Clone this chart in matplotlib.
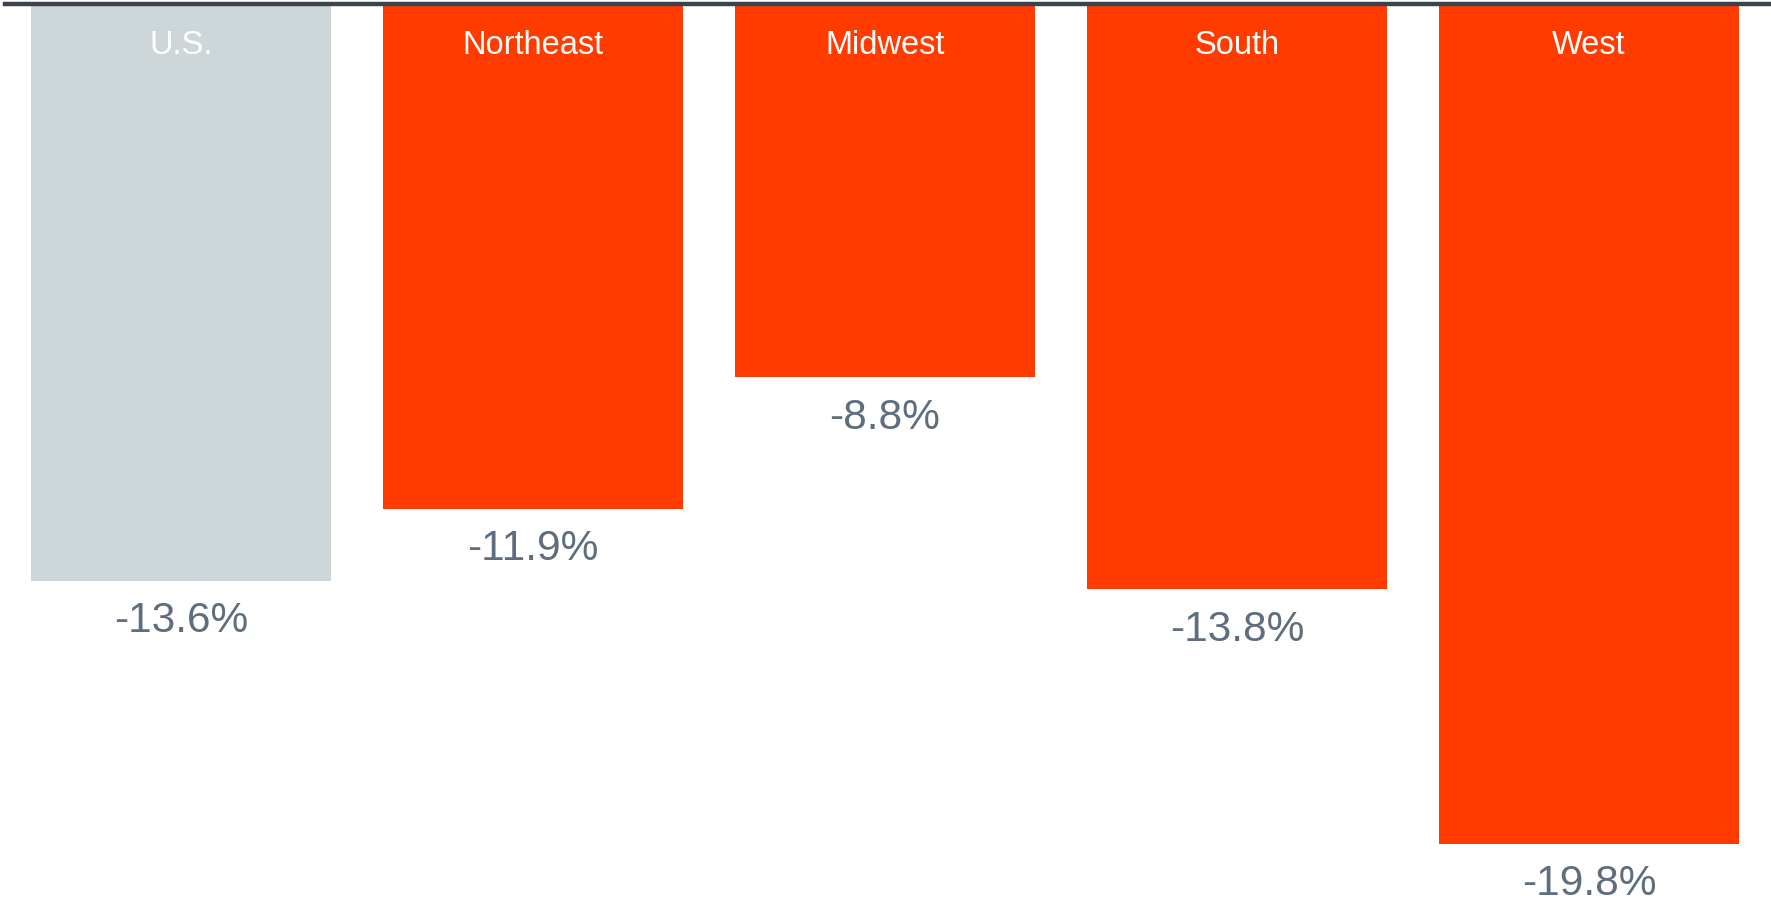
import matplotlib
matplotlib.use('Agg')
import matplotlib.pyplot as plt

regions = ['U.S.', 'Northeast', 'Midwest', 'South', 'West']
changes = [-13.6, -11.9, -8.8, -13.8, -19.8]
colors = ['#CDD6D9', '#FF3B00', '#FF3B00', '#FF3B00', '#FF3B00']

plt.rcParams['font.family'] = ['Liberation Sans', 'DejaVu Sans']

fig = plt.figure(figsize=(17.71, 9.01), dpi=100)
ax = fig.add_axes([5 / 1771, 0, 1 - 5 / 1771, 897 / 901])

x = range(len(regions))
ax.bar(x, changes, width=0.85, color=colors, zorder=2)
ax.axhline(0, color='#3D434A', linewidth=3.2, zorder=3, clip_on=False)

for i, (name, val) in enumerate(zip(regions, changes)):
    ax.text(i, -0.98, name, ha='center', va='center', color='white', fontsize=23.5)
    ax.text(i, val - 0.95, '%.1f%%' % val, ha='center', va='center',
            color='#5F6E7E', fontsize=30.5)

ax.set_xlim(-0.5, -0.5 + 1766 / 352)
ax.set_ylim(-897 / 42.42, 0)
ax.axis('off')

fig.savefig('out.png', dpi=100)
